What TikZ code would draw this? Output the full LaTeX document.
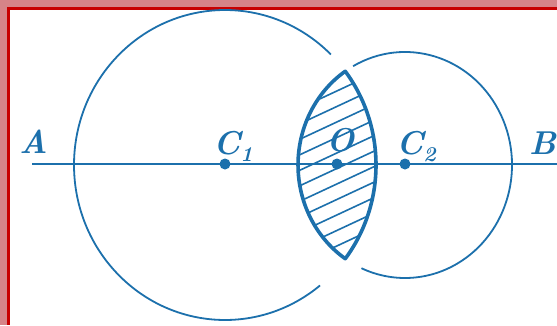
\documentclass[tikz,border=0pt]{standalone}
\usepackage{fontspec}
\usetikzlibrary{calc}
\definecolor{geoblue}{RGB}{28,112,172}
\definecolor{pinkband}{RGB}{214,132,136}
\definecolor{framered}{RGB}{200,0,0}
\newcommand{\lenspath}{($(K1)+(37.2:151 and 155)$) arc[start angle=37.2,end angle=-37.2,x radius=151,y radius=155] arc[start angle=236.05,end angle=123.95,x radius=107,y radius=113] -- cycle}
\newcommand{\subidx}[1]{\raisebox{-0.22em}{\fontsize{21}{21}\selectfont\bfseries #1}}
\begin{document}
\begin{tikzpicture}[x=1pt,y=1pt,
  geo/.style={draw=geoblue, line width=1.8pt},
  lensedge/.style={draw=geoblue, line width=3.6pt, line join=round},
  hatchline/.style={draw=geoblue, line width=1.6pt},
  dotpt/.style={circle, fill=geoblue, inner sep=0pt, minimum size=11pt},
  lbl/.style={text=geoblue, font=\fontsize{33}{36}\selectfont\bfseries\itshape, inner sep=0pt, anchor=base west}]
\useasboundingbox (0,0) rectangle (557,325);
% frame
\fill[pinkband] (0,0) rectangle (557,325);
\fill[white] (10,0) rectangle (557,315);
\fill[framered] (7,0) rectangle (10,318);
\fill[framered] (7,315) rectangle (557,318);
% centres
\coordinate (K1) at (225,160);
\coordinate (K2) at (405,160);
\coordinate (A0) at (32,161);
\coordinate (B0) at (557,161);
% line AB
\draw[geo] (A0) -- (B0);
% circles (with gaps)
\draw[geo] ($(K1)+(45.5:151 and 155)$) arc[start angle=45.5, end angle=309, x radius=151, y radius=155];
\draw[geo] ($(K2)+(119:107 and 113)$) arc[start angle=119, end angle=-114, x radius=107, y radius=113];
% lens hatching
\begin{scope}
  \clip \lenspath;
  \foreach \k in {-10,...,7}
    \draw[hatchline] (280,161+\k*15.5) -- ++(25:130);
\end{scope}
\draw[lensedge] \lenspath;
% points
\node[dotpt] (c1) at (225,161) {};
\node[dotpt] (o) at (337,161) {};
\node[dotpt] (c2) at (405,161) {};
% labels
\node[lbl] (lA) at (19,172) {A};
\node[lbl] (lC1) at (213,171) {C\subidx{1}};
\node[lbl] (lO) at (326,174) {O};
\node[lbl] (lC2) at (396,171) {C\subidx{2}};
\node[lbl] (lB) at (529,171) {B};
\end{tikzpicture}
\end{document}
